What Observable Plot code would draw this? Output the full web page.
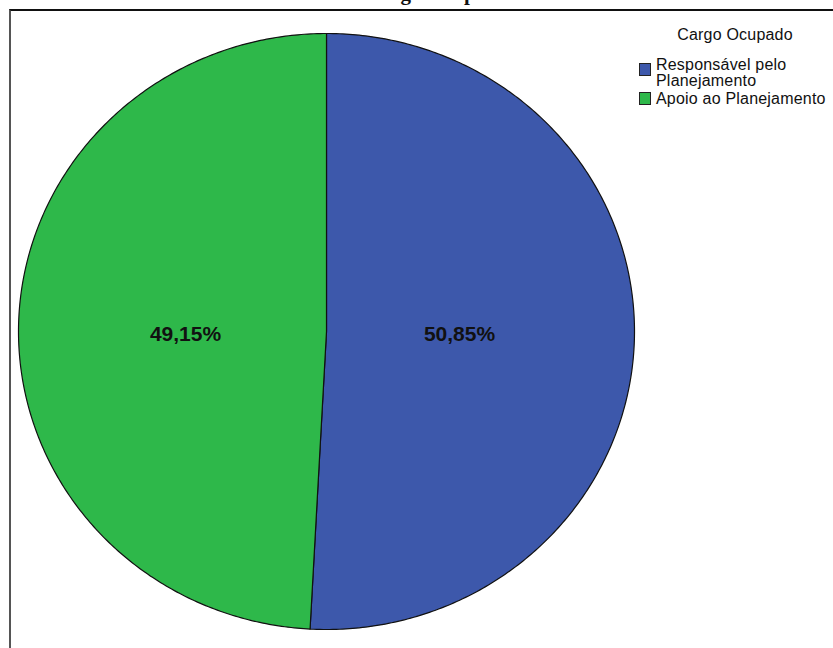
<!DOCTYPE html>
<html><head><meta charset="utf-8">
<script src="https://cdn.jsdelivr.net/npm/d3@7"></script>
<script src="https://cdn.jsdelivr.net/npm/@observablehq/plot@0.6"></script>
<style>
body{margin:0;background:#fff;}
#wrap{position:relative;width:833px;height:648px;overflow:hidden;font-family:"Liberation Sans",Arial,sans-serif;color:#111;}
#wrap svg{position:absolute;left:0;top:0;}
#frame{position:absolute;left:9px;top:9px;width:900px;height:700px;border-left:2px solid #555;border-top:2px solid #111;box-sizing:border-box;}
#title{position:absolute;left:337px;width:200px;top:-17px;text-align:center;font-family:"Liberation Serif","Times New Roman",serif;font-weight:bold;font-size:21px;line-height:21px;white-space:nowrap;}
.lg{position:absolute;font-size:16px;line-height:16px;letter-spacing:0.2px;white-space:nowrap;}
.sw{position:absolute;width:12px;height:13px;border:1px solid #222;box-sizing:border-box;}
</style></head><body><div id="wrap"></div>
<script>
const title = "Cargo Ocupado";
const legendTitle = "Cargo Ocupado";
const categories = ["Responsável pelo Planejamento", "Apoio ao Planejamento"];
const legendLines = [["Responsável pelo", "Planejamento"], ["Apoio ao Planejamento"]];
const percentages = [50.85, 49.15];
const colors = ["#3D58AB", "#2EB84A"];

const fmt = v => d3.format(".2f")(v).replace(".", ",") + "%";
const arcs = d3.pie().sort(null).value(d => d.value)(
  categories.map((c, i) => ({category: c, value: percentages[i]}))
);
const N = 300;
const slices = arcs.flatMap(a => {
  const pts = [{category: a.data.category, x: 0, y: 0}];
  for (let k = 0; k <= N; k++) {
    const t = a.startAngle + (a.endAngle - a.startAngle) * k / N;
    pts.push({category: a.data.category, x: Math.sin(t), y: Math.cos(t)});
  }
  return pts;
});
const labels = arcs.map(a => {
  const mid = (a.startAngle + a.endAngle) / 2;
  return {x: Math.sin(mid) * 0.445, y: 0, text: fmt(a.data.value)};
});

const chart = Plot.plot({
  width: 833, height: 648, margin: 0,
  x: {domain: [-1, 1], range: [18, 634], axis: null},
  y: {domain: [-1, 1], range: [629, 33], axis: null},
  color: {domain: categories, range: colors},
  style: {background: "transparent", fontFamily: "'Liberation Sans', Arial, sans-serif"},
  marks: [
    Plot.line(slices, {x: "x", y: "y", z: "category", fill: "category", stroke: "#111", strokeWidth: 1.2, curve: "linear-closed"}),
    Plot.text(labels, {x: "x", y: "y", text: "text", fontSize: 21, fontWeight: "bold", fill: "#111", dx: -4, dy: 3})
  ]
});

const wrap = document.getElementById("wrap");
wrap.appendChild(chart);
const frame = document.createElement("div"); frame.id = "frame"; wrap.appendChild(frame);
const t = document.createElement("div"); t.id = "title"; t.textContent = title; wrap.appendChild(t);

const lt = document.createElement("div");
lt.className = "lg"; lt.style.left = "635px"; lt.style.width = "200px"; lt.style.textAlign = "center"; lt.style.top = "26.5px";
lt.textContent = legendTitle; wrap.appendChild(lt);

const swTops = [63, 92];
const txtTops = [56.5, 90.5];
categories.forEach((c, i) => {
  const sw = document.createElement("div");
  sw.className = "sw"; sw.style.left = "639px"; sw.style.top = swTops[i] + "px"; sw.style.background = colors[i];
  wrap.appendChild(sw);
  const tx = document.createElement("div");
  tx.className = "lg"; tx.style.left = "656px"; tx.style.top = txtTops[i] + "px";
  tx.innerHTML = legendLines[i].join("<br>");
  wrap.appendChild(tx);
});
</script></body></html>
